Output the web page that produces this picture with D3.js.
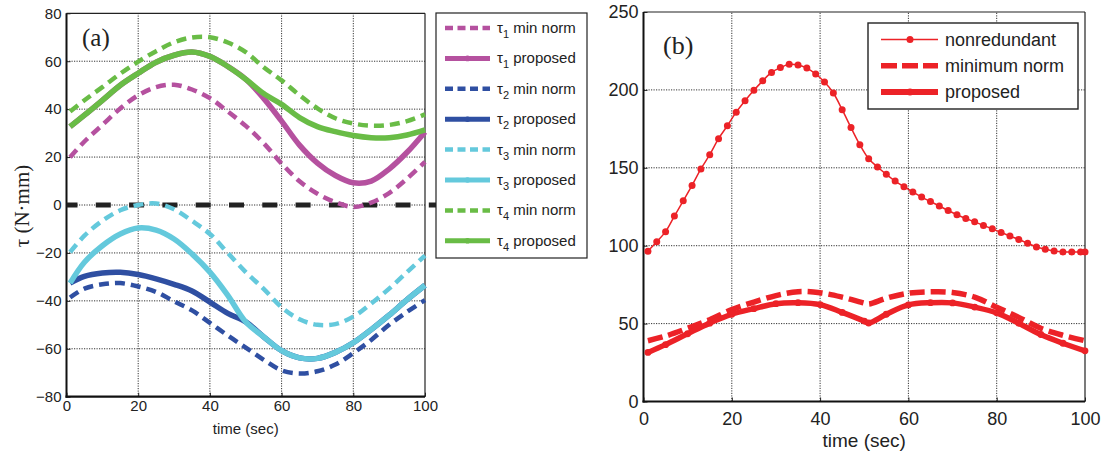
<!DOCTYPE html>
<html>
<head>
<meta charset="utf-8">
<script src="https://d3js.org/d3.v7.min.js"></script>
<style>
    body { margin: 0; background: white; }
    svg { display: block; font-family: "Liberation Sans", Arial, Helvetica, sans-serif; }
    .gridline { stroke: #333; stroke-width: 1; stroke-dasharray: 1.2,1.3; }
    .tick text { fill: #222; }
    .tick line { stroke: #222; }
</style>
</head>
<body>

<svg width="1110" height="454"></svg>

<script>

// ---- panel (a): joint torques, sampled every 5 sec ----
var tA = [1, 5, 10, 15, 20, 25, 30, 35, 40, 45, 50, 55, 60, 65, 70, 75, 80, 85, 90, 95, 100];

var tau1Min  = [19.9, 26.5, 33.4, 40.3, 45.8, 49.2, 50.2, 48.2, 44.6, 39, 33, 25.8, 17.3, 9.9, 4.7, 1.2, -0.8, 1, 5, 11, 18];
var tau1Prop = [32.7, 37.5, 43.7, 50, 55, 59.6, 62.5, 63.8, 62, 57.8, 52.5, 44.5, 35, 25, 17.5, 12.3, 9.3, 10, 15, 22, 30.5];
var tau2Min  = [-38.6, -34.9, -33.1, -32.6, -34, -36.3, -40.2, -44, -49.2, -54.5, -59.5, -64.6, -69, -70.3, -69.4, -66.6, -61.8, -56.3, -50, -44.6, -39.7];
var tau2Prop = [-32.6, -29.8, -28.4, -28.1, -29, -30.8, -33.1, -35.9, -40.5, -45.2, -48.8, -55, -60.8, -63.8, -64, -61.5, -57.5, -52, -46, -39.5, -33.5];
var tau3Min  = [-19.7, -12.8, -6.6, -2.2, 0, 0.6, -1.8, -6.6, -12.1, -20, -28, -35, -42.7, -47.7, -50, -49.7, -46.6, -41.1, -34.9, -28, -21.1];
var tau3Prop = [-32.6, -23.9, -17, -12.1, -9.6, -10.5, -14.2, -20.4, -28, -37.7, -48.8, -55, -60.8, -63.8, -64, -61.5, -57.5, -52, -46, -39.5, -33.5];
var tau4Min  = [39, 43.7, 49.2, 54.8, 59.8, 64.2, 67.9, 69.9, 70, 67.8, 63.8, 57.5, 52, 45.8, 40.3, 36.2, 34, 33.1, 33.4, 35, 37.8];
var tau4Prop = [32.7, 37.5, 43.7, 50, 55, 59.6, 62.5, 63.8, 62, 57.8, 52.5, 46.5, 42, 36.5, 32.7, 30.6, 29, 28.1, 28.1, 29.2, 31.3];

var yTicksA = [-80, -60, -40, -20, 0, 20, 40, 60, 80];
var xTicks = [0, 20, 40, 60, 80, 100];

// ---- panel (b): max torque ----
var tB = [1, 5, 10, 15, 20, 25, 30, 35, 40, 45, 50, 51, 55, 60, 65, 70, 75, 80, 85, 90, 95, 100];
var minNorm  = [39, 42, 47, 52.5, 59, 63.8, 68, 70.5, 69.8, 67, 63.2, 62.6, 66.3, 69.5, 70.4, 70, 67, 60.5, 54, 47, 42.5, 39];
var proposed = [31.5, 36.5, 43.5, 50.3, 56, 59.6, 62.8, 63.4, 62.2, 57.2, 51.6, 50.4, 56, 62, 63.4, 63.3, 60.6, 56.9, 50.2, 43, 37.4, 32.5];

var tNonred = [1, 3, 5, 7, 9, 11, 13, 15, 17, 19, 21, 23, 25, 27, 29, 31, 33, 35, 37, 39,
               41, 43, 45, 47, 49, 51, 53, 55, 57, 59, 61, 63, 65, 67, 69, 71, 73, 75, 77, 79,
               81, 83, 85, 87, 89, 91, 93, 95, 97, 99, 100];
var nonred = [96.5, 102.5, 109, 119, 128.8, 138.7, 149.3, 158.4, 168.7, 177,
              185.7, 193, 199.7, 205.8, 211.2, 214.3, 216.4, 216, 214, 210.2,
              205, 198, 187.3, 175.8, 164.8, 155.8, 150.5, 145.8, 141.5, 137.9,
              134.5, 131.2, 128.3, 125.5, 122.6, 119.9, 117.5, 115.3, 113, 110.8,
              108.5, 106.2, 104, 101.5, 99.2, 97.8, 96.6, 96, 96, 96, 96];

var yTicksB = [0, 50, 100, 150, 200, 250];

var magenta = '#b5519f', blue = '#2f4fa2', cyan = '#64c9dc', green = '#69bc46', red = '#ec2227';

var seriesA = [
    {idx: 1, label: 'min norm', vals: tau1Min,  color: magenta, dash: true},
    {idx: 1, label: 'proposed', vals: tau1Prop, color: magenta, dash: false},
    {idx: 2, label: 'min norm', vals: tau2Min,  color: blue,    dash: true},
    {idx: 2, label: 'proposed', vals: tau2Prop, color: blue,    dash: false},
    {idx: 3, label: 'min norm', vals: tau3Min,  color: cyan,    dash: true},
    {idx: 3, label: 'proposed', vals: tau3Prop, color: cyan,    dash: false},
    {idx: 4, label: 'min norm', vals: tau4Min,  color: green,   dash: true},
    {idx: 4, label: 'proposed', vals: tau4Prop, color: green,   dash: false}
];

var svg = d3.select('svg');

var xA = d3.scaleLinear().domain([0, 100]).range([66.5, 425]);
var yA = d3.scaleLinear().domain([-80, 80]).range([396.7, 13.3]);
var xB = d3.scaleLinear().domain([0, 100]).range([643.5, 1085]);
var yB = d3.scaleLinear().domain([0, 250]).range([401.5, 12]);

function zip(xs, ys) {
    return xs.map(function(d, i) { return [d, ys[i]]; });
}

// grid, axes and box for one panel
function frame(x, y, yTicks, fontSize, xPad) {
    var g = svg.append('g');
    var x0 = x.range()[0], x1 = x.range()[1], y0 = y.range()[0], y1 = y.range()[1];

    g.selectAll('.vgrid').data(xTicks.slice(1, -1)).enter().append('line')
        .attr('class', 'gridline')
        .attr('x1', function(d) { return x(d); }).attr('x2', function(d) { return x(d); })
        .attr('y1', y0).attr('y2', y1);
    g.selectAll('.hgrid').data(yTicks.slice(1, -1)).enter().append('line')
        .attr('class', 'gridline')
        .attr('y1', function(d) { return y(d); }).attr('y2', function(d) { return y(d); })
        .attr('x1', x0).attr('x2', x1);

    var ax = g.append('g').attr('transform', 'translate(' + x0 + ',0)')
        .call(d3.axisLeft(y).tickValues(yTicks).tickSize(-4).tickPadding(5));
    var bx = g.append('g').attr('transform', 'translate(0,' + y0 + ')')
        .call(d3.axisBottom(x).tickValues(xTicks).tickSize(-4).tickPadding(xPad));
    [ax, bx].forEach(function(a) {
        a.select('.domain').remove();
        a.selectAll('text').style('font-size', fontSize + 'px')
            .style('font-family', '"Liberation Sans", Arial, sans-serif');
    });

    // thin top / right, heavier left / bottom
    g.append('line').attr('x1', x0).attr('x2', x1).attr('y1', y1).attr('y2', y1).attr('stroke', '#222').attr('stroke-width', 1.2);
    g.append('line').attr('x1', x1).attr('x2', x1).attr('y1', y0).attr('y2', y1).attr('stroke', '#222').attr('stroke-width', 1.2);
    g.append('line').attr('x1', x0).attr('x2', x0).attr('y1', y0 + 1).attr('y2', y1).attr('stroke', '#111').attr('stroke-width', 2);
    g.append('line').attr('x1', x0 - 1).attr('x2', x1).attr('y1', y0).attr('y2', y0).attr('stroke', '#111').attr('stroke-width', 2.2);
}

frame(xA, yA, yTicksA, 15, 4);
frame(xB, yB, yTicksB, 18, 11);

// ---------------- panel (a) ----------------
var lineA = d3.line()
    .x(function(d) { return xA(d[0]); })
    .y(function(d) { return yA(d[1]); })
    .curve(d3.curveCatmullRom.alpha(0.5));

// zero reference line
svg.append('line')
    .attr('x1', xA(0)).attr('x2', 436)
    .attr('y1', yA(0)).attr('y2', yA(0))
    .attr('stroke', '#222').attr('stroke-width', 5)
    .attr('stroke-dasharray', '15,18.3').attr('stroke-dashoffset', 4);

svg.append('g').selectAll('path').data(seriesA).enter().append('path')
    .attr('d', function(d) { return lineA(zip(tA, d.vals)); })
    .attr('fill', 'none')
    .attr('stroke', function(d) { return d.color; })
    .attr('stroke-width', function(d) { return d.dash ? 4.5 : 5.5; })
    .attr('stroke-dasharray', function(d) { return d.dash ? '10,6' : null; })
    .attr('stroke-linejoin', 'round');

svg.append('text').attr('x', 82).attr('y', 46)
    .style('font-family', '"Liberation Serif", "Times New Roman", serif').style('font-size', '25px')
    .attr('fill', '#222').text('(a)');

svg.append('text')
    .attr('transform', 'translate(29,206) rotate(-90)')
    .attr('text-anchor', 'middle')
    .style('font-family', '"Liberation Serif", "Times New Roman", serif').style('font-size', '21px')
    .attr('fill', '#222').text('τ (N·mm)');

svg.append('text').attr('x', (xA(0) + xA(100)) / 2).attr('y', 434)
    .attr('text-anchor', 'middle').style('font-size', '15px').attr('fill', '#222')
    .text('time (sec)');

// legend (a)
var legA = svg.append('g');
legA.append('rect').attr('x', 436).attr('y', 13).attr('width', 151).attr('height', 245)
    .attr('fill', 'white').attr('stroke', '#222').attr('stroke-width', 1.2);

seriesA.forEach(function(s, i) {
    var yy = 28 + i * 30.4;
    legA.append('line').attr('x1', 445).attr('x2', 490).attr('y1', yy).attr('y2', yy)
        .attr('stroke', s.color)
        .attr('stroke-width', s.dash ? 4.5 : 5)
        .attr('stroke-dasharray', s.dash ? '8,4.5' : null);
    if (!s.dash) {
        legA.append('circle').attr('cx', 467.5).attr('cy', yy).attr('r', 2.8).attr('fill', s.color);
    }
    var t = legA.append('text').attr('x', 497).attr('y', yy + 5)
        .style('font-size', '15px').attr('fill', '#222');
    t.append('tspan').text('τ');
    t.append('tspan').attr('dy', 5).style('font-size', '11px').text(s.idx);
    t.append('tspan').attr('dy', -5).text(' ' + s.label);
});

// ---------------- panel (b) ----------------
var lineB = d3.line()
    .x(function(d) { return xB(d[0]); })
    .y(function(d) { return yB(d[1]); })
    .curve(d3.curveCatmullRom.alpha(0.5));

var nonredPts = zip(tNonred, nonred);
svg.append('path').attr('d', lineB(nonredPts))
    .attr('fill', 'none').attr('stroke', red).attr('stroke-width', 1.5);
svg.append('g').selectAll('circle').data(nonredPts).enter().append('circle')
    .attr('cx', function(d) { return xB(d[0]); })
    .attr('cy', function(d) { return yB(d[1]); })
    .attr('r', 3.5).attr('fill', red);

svg.append('path').attr('d', lineB(zip(tB, minNorm)))
    .attr('fill', 'none').attr('stroke', red).attr('stroke-width', 5.5)
    .attr('stroke-dasharray', '15,6');

var propPts = zip(tB, proposed);
svg.append('path').attr('d', lineB(propPts))
    .attr('fill', 'none').attr('stroke', red).attr('stroke-width', 5.5)
    .attr('stroke-linejoin', 'round');
svg.append('g').selectAll('circle').data(propPts).enter().append('circle')
    .attr('cx', function(d) { return xB(d[0]); })
    .attr('cy', function(d) { return yB(d[1]); })
    .attr('r', 3.4).attr('fill', red);

svg.append('text').attr('x', 663).attr('y', 54)
    .style('font-family', '"Liberation Serif", "Times New Roman", serif').style('font-size', '26px')
    .attr('fill', '#222').text('(b)');

svg.append('text').attr('x', (xB(0) + xB(100)) / 2).attr('y', 447)
    .attr('text-anchor', 'middle').style('font-size', '19px').attr('fill', '#222')
    .text('time (sec)');

// legend (b)
var legB = svg.append('g');
legB.append('rect').attr('x', 868).attr('y', 23).attr('width', 210).attr('height', 86)
    .attr('fill', 'white').attr('stroke', '#222').attr('stroke-width', 1.4);

var legItemsB = [
    {label: 'nonredundant', width: 1.5, dash: null, dot: true},
    {label: 'minimum norm', width: 5.5, dash: '16,5', dot: false},
    {label: 'proposed', width: 6, dash: null, dot: true}
];
legItemsB.forEach(function(s, i) {
    var yy = 39.5 + i * 26.2;
    legB.append('line').attr('x1', 881).attr('x2', 938).attr('y1', yy).attr('y2', yy)
        .attr('stroke', red).attr('stroke-width', s.width).attr('stroke-dasharray', s.dash);
    if (s.dot) {
        legB.append('circle').attr('cx', 910).attr('cy', yy).attr('r', 3.5).attr('fill', red);
    }
    legB.append('text').attr('x', 945).attr('y', yy + 6.5)
        .style('font-size', '18px').attr('fill', '#222').text(s.label);
});

</script>
</body>
</html>
